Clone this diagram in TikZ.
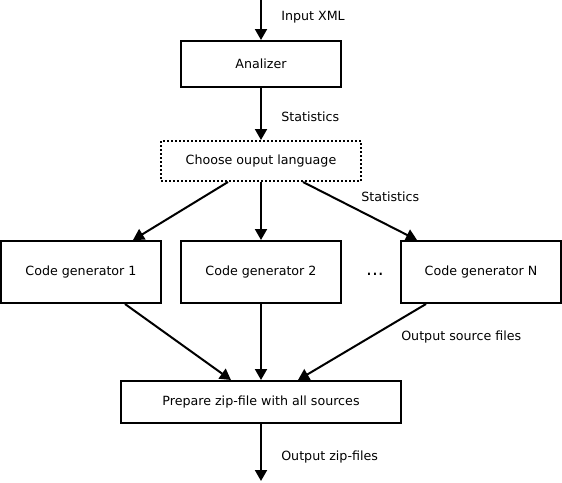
\documentclass[tikz,border=0pt]{standalone}
\usepackage{fontspec}
\setmainfont{DejaVu Sans}
\usepackage{tikz}
\usetikzlibrary{arrows.meta}

\tikzset{
    kasten/.style={draw=black, line width=1.5pt, fill=white, inner sep=0pt},
    pfeil/.style={line width=1.5pt, -{Triangle[length=8.25pt, width=9pt]}},
    notiz/.style={anchor=west, inner sep=0pt}
}

\begin{document}
\begin{tikzpicture}[x=0.75pt, y=-0.75pt, font=\fontsize{9.5}{11}\selectfont]
    \useasboundingbox (0,0) rectangle (562,483);

    % Kaesten.
    \node[kasten, minimum width=120pt, minimum height=34.5pt] (analizer) at (261,64) {Analizer};
    \node[kasten, dash pattern=on 1.5pt off 1.5pt, minimum width=150pt, minimum height=30pt] (choose) at (261,161) {Choose ouput language};
    \node[kasten, minimum width=120pt, minimum height=46.5pt] (gen1) at (81,272) {Code generator 1};
    \node[kasten, minimum width=120pt, minimum height=46.5pt] (gen2) at (261,272) {Code generator 2};
    \node[kasten, minimum width=120pt, minimum height=46.5pt] (genN) at (481,272) {Code generator N};
    \node[kasten, minimum width=210pt, minimum height=31.5pt] (zip) at (261,402) {Prepare zip-file with all sources};
    \node[inner sep=0pt, font=\fontsize{14}{14}\selectfont] (dots) at (375,274) {...};

    \coordinate (in) at (261,0);
    \coordinate (out) at (261,481);

    % Pfeile.
    \draw[pfeil] (in) -- (analizer);
    \draw[pfeil] (analizer) -- (choose);
    \draw[pfeil] ([xshift=-24.75pt]choose.south) -- ([xshift=39pt]gen1.north);
    \draw[pfeil] (choose) -- (gen2);
    \draw[pfeil] ([xshift=31.5pt]choose.south) -- ([xshift=-48pt]genN.north);
    \draw[pfeil] ([xshift=33pt]gen1.south) -- ([xshift=-22.5pt]zip.north);
    \draw[pfeil] (gen2) -- (zip);
    \draw[pfeil] ([xshift=-41.25pt]genN.south) -- ([xshift=27.75pt]zip.north);
    \draw[pfeil] (zip) -- (out);

    % Beschriftung.
    \node[notiz] (l1) at (281,17) {Input XML};
    \node[notiz] (l2) at (281,117) {Statistics};
    \node[notiz] (l3) at (361,197) {Statistics};
    \node[notiz] (l4) at (401,337) {Output source files};
    \node[notiz] (l5) at (281,457) {Output zip-files};
\end{tikzpicture}
\end{document}
